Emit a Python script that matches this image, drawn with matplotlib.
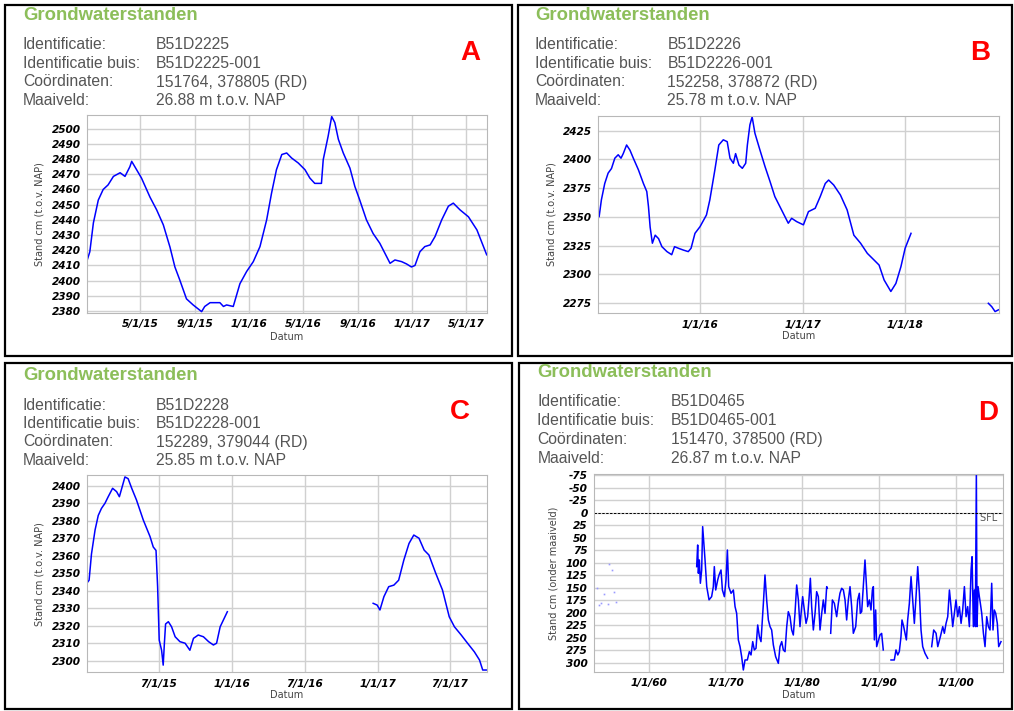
import numpy as np
import pandas as pd
import matplotlib
matplotlib.use("Agg")
import matplotlib.pyplot as plt
import matplotlib.dates as mdates
from matplotlib.ticker import FuncFormatter
from matplotlib.patches import Rectangle
from datetime import datetime, timedelta

W, H = 1014, 711
plt.rcParams["axes.unicode_minus"] = False

# ---------------- put B51D2225 (A) ----------------
a_dates = ["2015-01-01", "2015-01-08", "2015-01-16", "2015-01-27", "2015-02-07", "2015-02-18",
           "2015-03-02", "2015-03-17", "2015-03-28", "2015-04-08", "2015-04-12", "2015-04-23",
           "2015-05-04", "2015-05-23", "2015-06-07", "2015-06-22", "2015-07-07", "2015-07-18",
           "2015-07-29", "2015-08-13", "2015-08-28", "2015-09-16", "2015-09-23", "2015-10-05",
           "2015-10-20", "2015-10-27", "2015-11-04", "2015-11-11", "2015-11-26", "2015-12-11",
           "2015-12-26", "2016-01-10", "2016-01-25", "2016-02-09", "2016-02-20", "2016-03-02",
           "2016-03-14", "2016-03-25", "2016-04-05", "2016-04-20", "2016-05-05", "2016-05-16",
           "2016-05-27", "2016-06-11", "2016-06-15", "2016-06-26", "2016-07-04", "2016-07-11",
           "2016-07-19", "2016-07-30", "2016-08-14", "2016-08-25", "2016-09-05", "2016-09-20",
           "2016-10-05", "2016-10-20", "2016-11-04", "2016-11-12", "2016-11-23", "2016-12-08",
           "2016-12-19", "2016-12-30", "2017-01-07", "2017-01-18", "2017-01-29", "2017-02-10",
           "2017-02-21", "2017-03-08", "2017-03-23", "2017-04-03", "2017-04-18", "2017-05-07",
           "2017-05-26", "2017-06-17"]
a_level = [2412.5, 2419, 2438, 2453, 2460, 2463,
           2468.6, 2471, 2468.6, 2475, 2478.5, 2473,
           2467.5, 2455, 2446.6, 2436.7, 2422, 2409,
           2400.4, 2388, 2384, 2379.6, 2383, 2385.5,
           2385.5, 2385.5, 2383, 2384, 2383, 2398,
           2406, 2412.5, 2422.4, 2440, 2457.6, 2473,
           2483, 2484, 2480.7, 2477.4, 2473, 2467.5,
           2464, 2464, 2479.6, 2495, 2508, 2504,
           2493, 2484, 2474, 2462, 2453, 2440,
           2431, 2424.6, 2416, 2411.4, 2413.6, 2412.5,
           2411, 2409, 2410, 2419, 2422.4, 2423.5,
           2429, 2440, 2449, 2451, 2446.6, 2442,
           2433.4, 2417]

# ---------------- put B51D2226 (B) ----------------
b_dates = ["2015-01-05", "2015-01-13", "2015-01-25", "2015-02-06", "2015-02-18", "2015-03-02",
           "2015-03-14", "2015-03-24", "2015-04-01", "2015-04-13", "2015-04-25", "2015-05-07",
           "2015-05-25", "2015-06-12", "2015-06-24", "2015-06-30", "2015-07-06", "2015-07-14",
           "2015-07-24", "2015-08-05", "2015-08-17", "2015-09-04", "2015-09-21", "2015-10-01",
           "2015-10-15", "2015-11-02", "2015-11-19", "2015-11-29", "2015-12-13", "2015-12-31",
           "2016-01-23", "2016-02-04", "2016-02-22", "2016-03-07", "2016-03-23", "2016-04-06",
           "2016-04-16", "2016-04-28", "2016-05-06", "2016-05-18", "2016-05-30", "2016-06-11",
           "2016-06-17", "2016-06-26", "2016-07-04", "2016-07-14", "2016-08-01", "2016-08-19",
           "2016-09-06", "2016-09-23", "2016-10-17", "2016-11-10", "2016-11-22", "2016-12-10",
           "2017-01-03", "2017-01-21", "2017-02-14", "2017-03-04", "2017-03-22", "2017-04-03",
           "2017-04-21", "2017-05-15", "2017-06-08", "2017-07-02", "2017-07-26", "2017-08-19",
           "2017-09-12", "2017-09-30", "2017-10-18", "2017-11-11", "2017-11-29", "2017-12-17",
           "2018-01-01", "2018-01-22", "2018-06-01",
           "2018-10-25", "2018-11-06", "2018-11-18", "2018-11-30"]
b_level = [2350.2, 2364.7, 2379, 2388, 2392, 2401,
           2404, 2401, 2405, 2412.5, 2408, 2401,
           2391, 2379, 2372, 2359, 2341, 2327,
           2334, 2331, 2324, 2319.7, 2317, 2324,
           2322.6, 2321, 2319.7, 2322.6, 2335.6, 2341.4,
           2351.6, 2364.7, 2390.8, 2412.5, 2417, 2415.4,
           2401, 2396.6, 2405, 2395, 2392.2, 2396.6,
           2412.5, 2430, 2437, 2422.7, 2408, 2393.7,
           2380.6, 2367.6, 2356, 2344.4, 2348.7, 2345.8,
           2343, 2354.5, 2357.4, 2367.6, 2379, 2382,
           2377.7, 2369, 2356, 2334, 2327, 2318.2,
           2312.4, 2308, 2295, 2285, 2292, 2306.6,
           2322.6, 2335.6, None,
           2274.7, 2271.8, 2267.5, 2269]

# ---------------- put B51D2228 (C) ----------------
c_dates = ["2015-01-01", "2015-01-07", "2015-01-13", "2015-01-22", "2015-01-30", "2015-02-07",
           "2015-02-16", "2015-02-24", "2015-03-07", "2015-03-17", "2015-03-24", "2015-03-30",
           "2015-04-07", "2015-04-15", "2015-04-24", "2015-05-06", "2015-05-23", "2015-06-09",
           "2015-06-17", "2015-06-24", "2015-06-28", "2015-07-02", "2015-07-08", "2015-07-12",
           "2015-07-15", "2015-07-18", "2015-07-25", "2015-08-02", "2015-08-11", "2015-08-23",
           "2015-09-05", "2015-09-17", "2015-09-26", "2015-10-08", "2015-10-21", "2015-11-03",
           "2015-11-15", "2015-11-23", "2015-12-02", "2015-12-20", "2016-06-01",
           "2016-12-20", "2016-12-30", "2017-01-06", "2017-01-16", "2017-01-28", "2017-02-10",
           "2017-02-22", "2017-03-07", "2017-03-20", "2017-04-01", "2017-04-14", "2017-04-27",
           "2017-05-09", "2017-05-26", "2017-06-12", "2017-06-29", "2017-07-12", "2017-07-29",
           "2017-08-14", "2017-08-31", "2017-09-13", "2017-09-21", "2017-10-01"]
c_level = [2344.2, 2346, 2361, 2374.7, 2383, 2387,
           2390, 2393.7, 2398.5, 2396.6, 2393.7, 2398.5,
           2405, 2404, 2398.5, 2391.8, 2380.4, 2370.9,
           2365, 2363, 2342.3, 2311.8, 2306, 2297.5,
           2310, 2321, 2322.3, 2319.4, 2313.7, 2310.9,
           2310, 2306, 2312.8, 2314.7, 2313.7, 2310.9,
           2309, 2310, 2319.4, 2328, None,
           2332.8, 2331.8, 2329, 2336.6, 2342.3, 2343.2,
           2346, 2357.5, 2367, 2371.8, 2370, 2363.2,
           2360.4, 2350, 2340.4, 2325.1, 2319.4, 2314.7,
           2310, 2305.1, 2300.4, 2294.7, 2294.7]

# ---------------- put B51D0465 (D), decimal years, cm below surface ----------------
d_years = [1966.25, 1966.38, 1966.47, 1966.6, 1966.73, 1966.9, 1967.03, 1967.16, 1967.34,
           1967.56, 1967.86, 1968.2, 1968.42, 1968.55, 1968.73, 1968.99, 1969.16, 1969.42,
           1969.6, 1969.86, 1970.07, 1970.25, 1970.42, 1970.73, 1971.03, 1971.25, 1971.46,
           1971.68, 1971.9, 1972.11, 1972.33, 1972.55, 1972.85, 1973.11, 1973.33, 1973.55,
           1973.76, 1973.98, 1974.2, 1974.42, 1974.63, 1974.94, 1975.15, 1975.37, 1975.59,
           1975.81, 1976.02, 1976.24, 1976.54, 1976.89, 1977.1, 1977.33, 1977.54, 1977.76,
           1977.98, 1978.19, 1978.41, 1978.63, 1978.84, 1979.06, 1979.28, 1979.5, 1979.71,
           1979.93, 1980.06, 1980.28, 1980.5, 1980.71, 1980.89, 1981.06, 1981.23, 1981.45,
           1981.67, 1981.88, 1982.1, 1982.32, 1982.54, 1982.75, 1982.97, 1983.19, 1983.27,
           1983.5,
           1983.71, 1983.93, 1984.19, 1984.49, 1984.71, 1984.92, 1985.14, 1985.36, 1985.58,
           1985.79, 1986.01, 1986.23, 1986.44, 1986.66, 1986.97, 1987.23, 1987.44, 1987.57,
           1987.75, 1987.96, 1988.18, 1988.31, 1988.53, 1988.75, 1988.96, 1989.14, 1989.27,
           1989.4, 1989.57, 1989.7, 1990.13, 1990.35, 1990.56,
           1991.0,
           1991.57, 1992.0, 1992.22, 1992.45, 1992.65, 1992.87, 1993.0, 1993.22, 1993.4,
           1993.57, 1993.74, 1993.96, 1994.18, 1994.4, 1994.61, 1994.83, 1995.05, 1995.27,
           1995.48, 1995.7, 1996.0, 1996.35,
           1996.6,
           1996.87, 1997.13, 1997.44, 1997.66, 1998.0, 1998.31, 1998.52, 1998.74, 1998.96,
           1999.18, 1999.39, 1999.61, 1999.83, 2000.04, 2000.26, 2000.48, 2000.7, 2000.91,
           2001.13, 2001.35, 2001.56, 2001.78, 2002.0, 2002.13, 2002.3, 2002.43, 2002.56,
           2002.69, 2002.78, 2002.91, 2003.08, 2003.21, 2003.39, 2003.61, 2003.82, 2004.04,
           2004.26, 2004.47, 2004.69, 2004.86, 2005.03, 2005.21, 2005.42, 2005.6, 2005.9]
d_level = [107.8, 64.6, 121, 94.5, 141, 114.5, 28, 54.7, 94.5,
           147.7, 174, 167.7, 147.7, 107.8, 154.4, 134.4, 124.5, 114.5,
           154.4, 167.7, 134.4, 74.6, 147.7, 161, 154.4, 187.6, 201,
           254, 267.4, 287.4, 314, 294, 294, 277.4, 284, 257.4,
           274, 270.7, 224.2, 247.5, 257.4, 181, 124.5, 174.3, 214.2,
           227.5, 234.2, 264, 287.4, 300.7, 267.4, 257.4, 274, 277.4,
           227.5, 197.6, 207.6, 234.2, 244.2, 201, 144.4, 174.3, 227.5,
           187.6, 167.7, 194.3, 221, 207.6, 171, 131, 187.6, 234.2,
           201, 157.7, 167.7, 234.2, 201, 174.3, 201, 147.7, 151,
           None,
           240.8, 174.3, 181, 207.6, 181, 161, 151, 154.4, 174.3,
           214.2, 174.3, 147.7, 187.6, 240.8, 227.5, 174.3, 161, 201,
           197.6, 147.7, 94.5, 127.8, 187.6, 174.3, 194.3, 154.4, 147.7,
           254, 194.3, 267.4, 244.2, 241, 274,
           None,
           294, 294, 274, 284, 277.4, 247.5, 214.2, 227.5, 240.8,
           254, 214.2, 181, 127.8, 174.3, 221, 167.7, 107.8, 161,
           234.2, 267.4, 280.7, 290.7,
           None,
           267.4, 234.2, 240.8, 267.4, 247.5, 227.5, 240.8, 221, 207.6,
           154.4, 187.6, 227.5, 201, 174.3, 207.6, 187.6, 221, 194.3,
           147.7, 207.6, 187.6, 227.5, 114.5, 88, 227.5, 154.4, 227.5,
           -80, 227.5, 147.7, 167.7, 181, 201, 240.8, 267.4, 207.6,
           227.5, 234.2, 141, 234.2, 194.3, 201, 221, 267.4, 257.4]
# loose early hand readings
d_dot_years = [1953.23, 1953.53, 1953.79, 1954.22, 1954.75, 1954.88, 1955.27, 1955.53, 1955.7]
d_dot_level = [151, 184, 181, 162, 182, 102.5, 114.5, 158, 178]

# ---------------- well metadata ----------------
labels = ["Identificatie:", "Identificatie buis:", "Coördinaten:", "Maaiveld:"]
wells = {
    "A": ["B51D2225", "B51D2225-001", "151764, 378805 (RD)", "26.88 m t.o.v. NAP"],
    "B": ["B51D2226", "B51D2226-001", "152258, 378872 (RD)", "25.78 m t.o.v. NAP"],
    "C": ["B51D2228", "B51D2228-001", "152289, 379044 (RD)", "25.85 m t.o.v. NAP"],
    "D": ["B51D0465", "B51D0465-001", "151470, 378500 (RD)", "26.87 m t.o.v. NAP"],
}


def dec_year(y):
    yr = int(y)
    return datetime(yr, 1, 1) + timedelta(days=(y - yr) * 365.25)


def short_date(x, pos):
    d = mdates.num2date(x)
    return f"{d.month}/{d.day}/{d:%y}"


fig = plt.figure(figsize=(W / 100, H / 100), dpi=100)


def px_axes(x0, y0, x1, y1):
    return fig.add_axes([x0 / W, 1 - y1 / H, (x1 - x0) / W, (y1 - y0) / H])


def header(key, x_lab, x_val, y_title, y_lines, letter_xy):
    fig.text(x_lab / W, 1 - y_title / H, "Grondwaterstanden", color="#8cbe5a",
             fontsize=13.3, fontweight="bold", family="Liberation Sans", va="center")
    for lab, val, y in zip(labels, wells[key], y_lines):
        fig.text(x_lab / W, 1 - y / H, lab, color="#555555", fontsize=11.3,
                 family="Liberation Sans", va="center")
        fig.text(x_val / W, 1 - y / H, val, color="#555555", fontsize=11.3,
                 family="Liberation Sans", va="center")
    fig.text(letter_xy[0] / W, 1 - letter_xy[1] / H, key, color="#ff0000", fontsize=20,
             fontweight="bold", family="Liberation Sans", ha="center", va="center")


def border(x0, y0, x1, y1):
    fig.add_artist(Rectangle((x0 / W, 1 - y1 / H), (x1 - x0) / W, (y1 - y0) / H,
                             transform=fig.transFigure, fill=False, lw=1.6, ec="black"))


def style(ax, yticks, ylim, xticks, xlim, ylabel, ylab_x, xlab_y):
    ax.set_yticks(yticks)
    ax.set_ylim(*ylim)
    ax.set_xticks([mdates.date2num(pd.Timestamp(t)) for t in xticks])
    ax.set_xlim(mdates.date2num(pd.Timestamp(xlim[0])), mdates.date2num(pd.Timestamp(xlim[1])))
    ax.xaxis.set_major_formatter(FuncFormatter(short_date))
    ax.grid(True, color="#d0d0d0", lw=1.0)
    ax.set_axisbelow(True)
    for s in ax.spines.values():
        s.set_color("#b8b8b8")
    ax.tick_params(length=0, pad=4.5, labelsize=7.6)
    for t in ax.get_xticklabels() + ax.get_yticklabels():
        t.set_fontweight("bold")
        t.set_fontstyle("oblique")
    ax.set_ylabel(ylabel, fontsize=7, color="#444444", va="center")
    ax.yaxis.set_label_coords(ylab_x, 0.5)
    ax.set_xlabel("Datum", fontsize=7, color="#444444", va="center")
    ax.xaxis.set_label_coords(0.5, xlab_y)


line_kw = dict(color="#0000ff", lw=1.1)

# A
header("A", 23, 156, 15, [44.7, 63.3, 82, 100.7], (470, 53))
ax = px_axes(86.7, 115, 486.7, 313)
ax.plot(pd.to_datetime(a_dates), np.array(a_level, dtype=float), **line_kw)
style(ax, range(2380, 2501, 10), (2378.7, 2509),
      ["2015-05-01", "2015-09-01", "2016-01-01", "2016-05-01", "2016-09-01", "2017-01-01", "2017-05-01"],
      ("2015-01-01", "2017-06-17"), "Stand cm (t.o.v. NAP)", -0.117, -0.12)

# B
header("B", 535, 667.3, 15, [44.7, 63.3, 82, 100.7], (980, 53))
ax = px_axes(598.3, 115.7, 999, 313.3)
ax.plot(pd.to_datetime(b_dates), np.array(b_level, dtype=float), **line_kw)
style(ax, range(2275, 2426, 25), (2266, 2438),
      ["2016-01-01", "2017-01-01", "2018-01-01"],
      ("2015-01-02", "2018-12-02"), "Stand cm (t.o.v. NAP)", -0.116, -0.115)

# C
header("C", 23, 156, 375, [405, 423.3, 442, 460.7], (460, 411.7))
ax = px_axes(86.7, 475, 486.7, 672.3)
ax.plot(pd.to_datetime(c_dates), np.array(c_level, dtype=float), **line_kw)
style(ax, range(2300, 2401, 10), (2293.4, 2406.1),
      ["2015-07-01", "2016-01-01", "2016-07-01", "2017-01-01", "2017-07-01"],
      ("2015-01-01", "2017-10-01"), "Stand cm (t.o.v. NAP)", -0.117, -0.115)

# D
header("D", 537.3, 670.7, 372.7, [401.7, 420.7, 439.3, 458.3], (988, 413))
ax = px_axes(594, 474.3, 1003.3, 672)
ax.plot([dec_year(y) for y in d_years], np.array(d_level, dtype=float), **line_kw)
ax.plot([dec_year(y) for y in d_dot_years], d_dot_level, ls="none", marker="s",
        ms=1.2, color="#9a9aff", mec="none")
ax.axhline(0, color="black", lw=0.7, ls=(0, (2.5, 1.5)))
ax.text(1.0, 0.0, "SFL  ", transform=ax.get_yaxis_transform(), fontsize=7,
        color="#555555", ha="right", va="top")
style(ax, range(-75, 301, 25), (318, -76.4),
      ["1960-01-01", "1970-01-01", "1980-01-01", "1990-01-01", "2000-01-01"],
      ("1952-11-15", "2006-03-15"), "Stand cm (onder maaiveld)", -0.0994, -0.116)

border(5, 5, 511.7, 356)
border(518.3, 5, 1011.5, 356)
border(5, 363, 511.7, 708.5)
border(519.3, 363, 1011.5, 708.5)

fig.savefig("out.png", dpi=100)
